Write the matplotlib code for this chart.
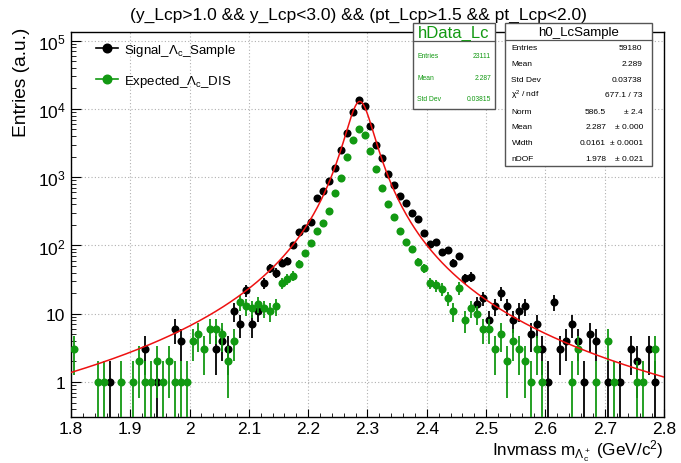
import math
import numpy as np
import matplotlib
matplotlib.use("Agg")
import matplotlib.pyplot as plt
from matplotlib.lines import Line2D
from matplotlib.patches import Rectangle
from matplotlib.ticker import MultipleLocator, LogLocator, NullFormatter

plt.rcParams['font.family'] = ['Liberation Sans', 'DejaVu Sans']
plt.rcParams['mathtext.fontset'] = 'custom'
plt.rcParams['mathtext.rm'] = 'Liberation Sans'
plt.rcParams['mathtext.it'] = 'Liberation Sans:italic'
plt.rcParams['mathtext.bf'] = 'Liberation Sans:bold'

# histogram binning: 100 bins from 1.8 to 2.8 GeV/c^2
x_lo, x_hi, n_bins = 1.8, 2.8, 100

signal_counts = [
    0, 0, 0, 0, 0, 0, 1, 0, 0, 0,
    0, 0, 3, 0, 1, 0, 0, 6, 4, 0,
    0, 0, 0, 0, 3, 4, 3, 11, 7, 22,
    7, 11, 28, 47, 40, 55, 60, 100, 157, 180,
    220, 490, 620, 890, 1350, 2500, 4500, 9000, 13300, 11000,
    5700, 3000, 1900, 1100, 770, 525, 420, 300, 245, 153,
    105, 114, 81, 87, 56, 69, 33, 35, 14, 17,
    8, 13, 20, 13, 8, 11, 13, 5, 7, 3,
    1, 15, 3, 4, 7, 4, 1, 5, 4, 0,
    1, 0, 1, 0, 3, 2, 0, 3, 1, 0,
]
expected_counts = [
    3, 0, 0, 0, 1, 1, 0, 0, 1, 0,
    1, 2, 1, 1, 2, 1, 2, 1, 1, 1,
    4, 5, 3, 6, 6, 5, 2, 4, 15, 13,
    12, 14, 12, 11, 13, 28, 32, 36, 54, 77,
    110, 162, 215, 318, 585, 970, 2000, 3500, 5100, 4100,
    2400, 1300, 690, 400, 265, 165, 112, 89, 58, 47,
    28, 26, 23, 17, 11, 24, 8, 12, 10, 6,
    6, 3, 5, 2, 4, 3, 2, 1, 3, 1,
    0, 0, 0, 0, 1, 3, 0, 0, 1, 0,
    4, 1, 0, 0, 0, 1, 1, 0, 3, 0,
]

# fit result shown in the stat box (student-t)
fit_norm, fit_mean, fit_width, fit_ndof = 586.5, 2.287, 0.0161, 1.978

x_ticks = [1.8, 1.9, 2.0, 2.1, 2.2, 2.3, 2.4, 2.5, 2.6, 2.7, 2.8]
x_tick_labels = ['1.8', '1.9', '2', '2.1', '2.2', '2.3', '2.4', '2.5', '2.6', '2.7', '2.8']
y_ticks = [1, 10, 100, 1e3, 1e4, 1e5]
y_tick_labels = ['1', '10', r'$10^{2}$', r'$10^{3}$', r'$10^{4}$', r'$10^{5}$']

black = 'black'
green = '#129912'
red = '#ee1111'

W, H = 681, 464


def fx(px):
    return px / W


def fy(py):
    return 1 - py / H


def student_t(x):
    nu = fit_ndof
    z = (x - fit_mean) / fit_width
    c = math.gamma((nu + 1) / 2) / (math.sqrt(nu * math.pi) * math.gamma(nu / 2))
    return fit_norm * c / fit_width * (1 + z * z / nu) ** (-(nu + 1) / 2)


fig = plt.figure(figsize=(W / 100, H / 100), dpi=100)
ax = fig.add_axes([fx(71), fy(418), (664 - 71) / W, (418 - 33) / H])

edges = np.linspace(x_lo, x_hi, n_bins + 1)
centers = 0.5 * (edges[1:] + edges[:-1])


def draw_hist(counts, color, z):
    c = np.array(counts, dtype=float)
    m = c > 0
    xs, ys = centers[m], c[m]
    err = np.sqrt(ys)
    lo = np.clip(ys - err, 0.05, None)
    ax.vlines(xs, lo, ys + err, colors=color, lw=1.3, zorder=z)
    ax.plot(xs, ys, 'o', color=color, ms=5.8, mec=color, mew=0, zorder=z + 0.5)


draw_hist(signal_counts, black, 3)
draw_hist(expected_counts, green, 4)

xf = np.linspace(x_lo, x_hi, 600)
ax.plot(xf, student_t(xf), color=red, lw=1.1, zorder=6)

ax.set_yscale('log')
ax.set_xlim(x_lo, x_hi)
ax.set_ylim(0.307, 1.34e5)

ax.set_xticks(x_ticks)
ax.set_xticklabels(x_tick_labels)
ax.xaxis.set_minor_locator(MultipleLocator(0.02))
ax.set_yticks(y_ticks)
ax.set_yticklabels(y_tick_labels)
ax.yaxis.set_minor_locator(LogLocator(base=10, subs=np.arange(2, 10)))
ax.yaxis.set_minor_formatter(NullFormatter())

ax.tick_params(which='both', direction='in', top=False, right=False, labelsize=12.5)
ax.tick_params(axis='x', which='major', length=5.5, pad=3)
ax.tick_params(axis='x', which='minor', length=3)
ax.tick_params(axis='y', which='major', length=7.5, pad=4)
ax.tick_params(axis='y', which='minor', length=3.8)
ax.grid(True, which='major', color='#b0b0b0', linestyle=(0, (1, 2)), lw=0.8)
for s in ax.spines.values():
    s.set_linewidth(1.0)

# legend
handles = [
    Line2D([], [], color=black, marker='o', ms=6.2, lw=1.2),
    Line2D([], [], color=green, marker='o', ms=6.2, lw=1.2),
]
labels = [r'Signal_$\mathregular{\Lambda_c}$_Sample', r'Expected_$\mathregular{\Lambda_c}$_DIS']
ax.legend(handles, labels, loc='upper left', bbox_to_anchor=(25 / 593, 0.975),
          frameon=False, fontsize=9.5, handlelength=1.7, handletextpad=0.4,
          labelspacing=1.15, borderpad=0, borderaxespad=0)

# titles
fig.text(fx(358), fy(15), '(y_Lcp>1.0 && y_Lcp<3.0) && (pt_Lcp>1.5 && pt_Lcp<2.0)',
         ha='center', va='center', fontsize=12.5)
fig.text(fx(22), fy(28), 'Entries (a.u.)', rotation=90, ha='center', va='top', fontsize=13.8)
fig.text(fx(664), fy(451), r'Invmass m$_{\mathregular{\Lambda_c^+}}$ (GeV/c$^{\mathregular{2}}$)',
         ha='right', va='center', fontsize=12.3)


def stat_box(x0, x1, y0, y1, ysep, title, tsize, tcolor):
    fig.add_artist(Rectangle((fx(x0), fy(y1)), (x1 - x0) / W, (y1 - y0) / H,
                             transform=fig.transFigure, facecolor='white',
                             edgecolor='#555555', lw=1.0, zorder=10))
    fig.add_artist(Line2D([fx(x0), fx(x1)], [fy(ysep), fy(ysep)],
                          transform=fig.transFigure, color='#555555', lw=0.9, zorder=11))
    fig.text(fx((x0 + x1) / 2), fy((y0 + ysep) / 2 + 0.5), title, ha='center', va='center',
             fontsize=tsize, color=tcolor, zorder=12)


# hData_Lc box
stat_box(413, 495, 24, 110, 42, 'hData_Lc', 12, green)
hdata_rows = [('Entries', '23111'), ('Mean', '2.287'), ('Std Dev', '0.03815')]
for (lab, val), yy in zip(hdata_rows, [56.7, 78.3, 99.3]):
    fig.text(fx(417), fy(yy), lab, ha='left', va='center', fontsize=4.9, color=green, zorder=12)
    fig.text(fx(491), fy(yy), val, ha='right', va='center', fontsize=4.9, color=green, zorder=12)

# h0_LcSample box
stat_box(505, 652, 24, 167, 41, 'h0_LcSample', 9.5, black)
h0_rows = [('Entries', '59180'), ('Mean', '2.289'), ('Std Dev', '0.03738'),
           (r'$\mathregular{\chi^{2}}$ / ndf', '677.1 / 73')]
fit_rows = [('Norm', '586.5', '± 2.4'), ('Mean', '2.287', '± 0.000'),
            ('Width', '0.0161', '± 0.0001'), ('nDOF', '1.978', '± 0.021')]
row_y = [48.3, 64.3, 80, 95.7, 112, 127.7, 143.7, 159.3]
for (lab, val), yy in zip(h0_rows, row_y[:4]):
    fig.text(fx(511.5), fy(yy), lab, ha='left', va='center', fontsize=6, zorder=12)
    fig.text(fx(642.5), fy(yy), val, ha='right', va='center', fontsize=6, zorder=12)
for (lab, val, e), yy in zip(fit_rows, row_y[4:]):
    fig.text(fx(511.5), fy(yy), lab, ha='left', va='center', fontsize=6, zorder=12)
    fig.text(fx(606), fy(yy), val, ha='right', va='center', fontsize=6, zorder=12)
    fig.text(fx(643), fy(yy), e, ha='right', va='center', fontsize=6, zorder=12)

fig.savefig('out.png', dpi=100)
